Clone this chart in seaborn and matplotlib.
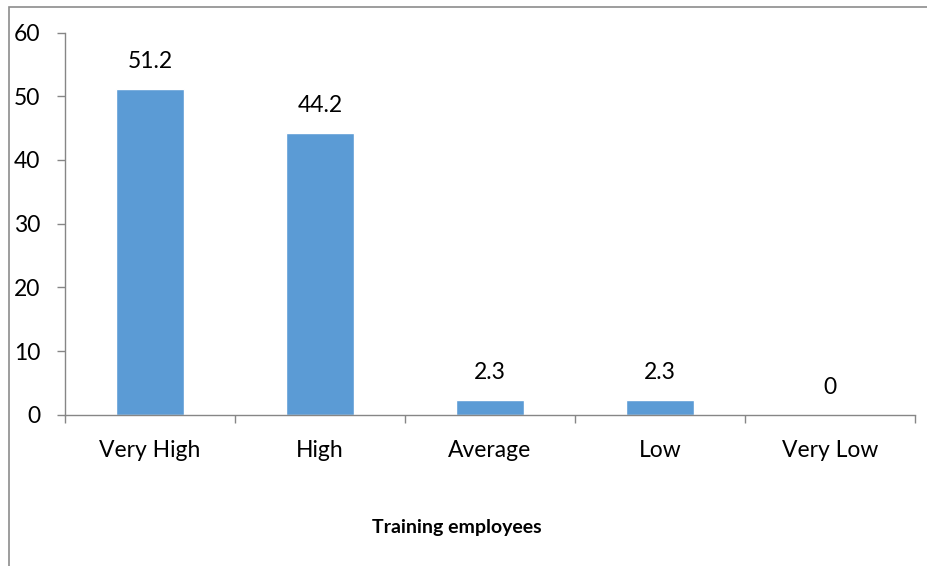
import matplotlib
matplotlib.use("Agg")
import matplotlib.pyplot as plt
import seaborn as sns
import pandas as pd
from matplotlib.patches import Rectangle

# Survey responses on employee training (percent)
categories = ["Very High", "High", "Average", "Low", "Very Low"]
values = [51.2, 44.2, 2.3, 2.3, 0]
value_labels = ["51.2", "44.2", "2.3", "2.3", "0"]
y_ticks = [0, 10, 20, 30, 40, 50, 60]
x_title = "Training employees"

sns.set_theme(style="white")
plt.rcParams["font.family"] = ["Lato", "DejaVu Sans"]

W, H = 927, 566
fig = plt.figure(figsize=(W / 100, H / 100), dpi=100)
ax = fig.add_axes([65 / W, 1 - 414.7 / H, 850 / W, (414.7 - 32.5) / H])

df = pd.DataFrame({"category": categories, "value": values})
sns.barplot(data=df, x="category", y="value", color="#5B9BD5", saturation=1,
            width=0.4, ax=ax)

axis_color = "#868686"
fs = 16.5
ax.set_ylim(0, 60)
ax.set_xlim(-0.5, len(categories) - 0.5)
ax.set_yticks(y_ticks)
ax.set_yticklabels([str(t) for t in y_ticks])
for side in ["top", "right"]:
    ax.spines[side].set_visible(False)
for side in ["left", "bottom"]:
    ax.spines[side].set_color(axis_color)
    ax.spines[side].set_linewidth(1)

ax.set_xticks(range(len(categories)))
ax.set_xticklabels(categories)
ax.tick_params(axis="x", length=0, pad=18, labelsize=fs, colors="black")
ax.tick_params(axis="y", direction="out", length=6, width=1, color=axis_color,
               pad=12, labelsize=fs, labelcolor="black", left=True)
# category boundary ticks below the axis
ax.set_xticks([i - 0.5 for i in range(len(categories) + 1)], minor=True)
ax.tick_params(axis="x", which="minor", direction="out", length=6, width=1,
               color=axis_color, bottom=True)
ax.set_xlabel("")
ax.set_ylabel("")

for i, (v, lab) in enumerate(zip(values, value_labels)):
    ax.annotate(lab, (i, v), xytext=(0, 12), textcoords="offset points",
                ha="center", va="bottom", fontsize=fs, color="black")

fig.text(457 / W, 1 - 527 / H, x_title, ha="center", va="center",
         fontsize=14, fontweight="bold", color="black")

# chart area frame
fig.patches.append(Rectangle((8.5 / W, -0.05), 1.1, 1.05 - 7 / H,
                             transform=fig.transFigure, fill=False,
                             edgecolor="#8c8c8c", linewidth=1.2))

fig.savefig("out.png", dpi=100)
